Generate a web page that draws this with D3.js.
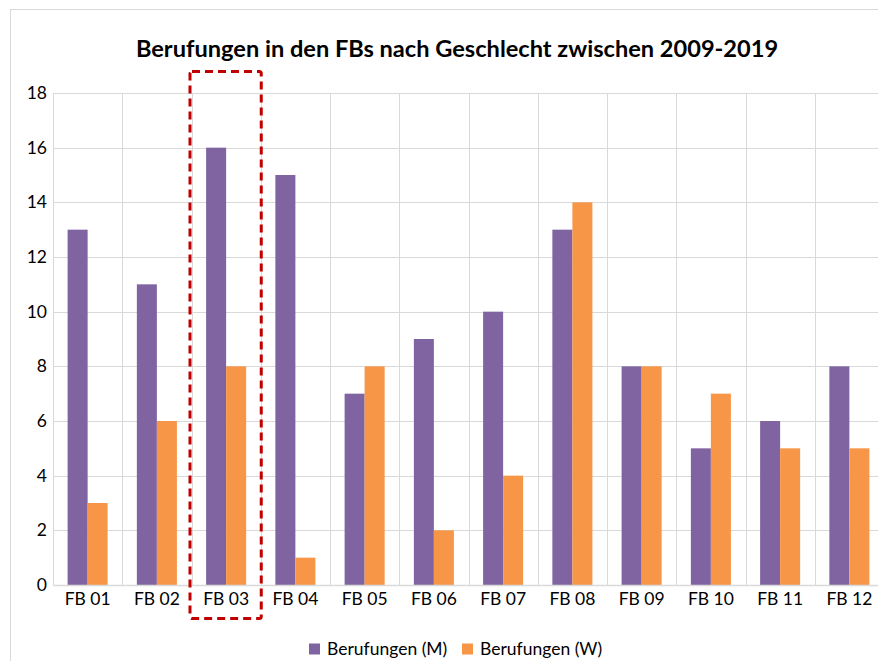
<!DOCTYPE html>
<html><head><meta charset="utf-8">
<script src="https://cdn.jsdelivr.net/npm/d3@7/dist/d3.min.js"></script>
<style>body{margin:0;background:#fff;overflow:hidden}svg{display:block;font-family:Lato,"Open Sans",sans-serif}</style>
</head><body>
<svg id="c" width="878" height="661"></svg>
<script>
const categories = ["FB 01","FB 02","FB 03","FB 04","FB 05","FB 06","FB 07","FB 08","FB 09","FB 10","FB 11","FB 12"];
const seriesNames = ["Berufungen (M)","Berufungen (W)"];
const valuesM = [13,11,16,15,7,9,10,13,8,5,6,8];
const valuesW = [3,6,8,1,8,2,4,14,8,7,5,5];
const yTicks = [0,2,4,6,8,10,12,14,16,18];
const colors = ["#8064A2","#F79646"];
const highlighted = "FB 03";

const svg = d3.select("#c");
const m = {left:53, right:884, top:93, bottom:585};

// chart frame
svg.append("rect").attr("x",10.5).attr("y",9.5).attr("width",894).attr("height",670)
  .attr("fill","none").attr("stroke","#d9d9d9").attr("stroke-width",1);

const x = d3.scaleBand().domain(categories).range([m.left,m.right]);
const y = d3.scaleLinear().domain([0,18]).range([m.bottom,m.top]);
const xs = d3.scaleBand().domain([0,1]).range([0,x.bandwidth()]).paddingInner(0).paddingOuter(0.73);

// horizontal grid
svg.append("g").selectAll("line").data(yTicks.filter(d=>d>0)).join("line")
  .attr("x1",m.left).attr("x2",m.right).attr("y1",d=>Math.round(y(d))+0.5).attr("y2",d=>Math.round(y(d))+0.5)
  .attr("stroke","#d9d9d9");
// vertical grid
svg.append("g").selectAll("line").data(categories).join("line")
  .attr("x1",d=>Math.round(x(d))+0.5).attr("x2",d=>Math.round(x(d))+0.5)
  .attr("y1",m.top).attr("y2",m.bottom).attr("stroke","#d9d9d9");

// bars
const series = [valuesM, valuesW];
series.forEach((vals,si)=>{
  svg.append("g").selectAll("rect").data(vals).join("rect")
    .attr("x",(d,i)=>x(categories[i])+xs(si))
    .attr("width",xs.bandwidth())
    .attr("y",d=>y(d)).attr("height",d=>y(0)-y(d))
    .attr("fill",colors[si]);
});

// baseline
svg.append("line").attr("x1",m.left).attr("x2",m.right).attr("y1",m.bottom+0.5).attr("y2",m.bottom+0.5)
  .attr("stroke","#d9d9d9").attr("stroke-width",1.5);

// y axis labels
const ya = svg.append("g").attr("transform",`translate(${m.left},0)`)
  .call(d3.axisLeft(y).tickValues(yTicks).tickSize(0).tickPadding(6));
ya.select(".domain").remove();
ya.selectAll("text").attr("font-size",17.5).attr("fill","#000").attr("font-family","Lato");

// x axis labels
const xa = svg.append("g").attr("transform",`translate(0,${m.bottom})`)
  .call(d3.axisBottom(x).tickSize(0).tickPadding(8));
xa.select(".domain").remove();
xa.selectAll("text").attr("font-size",17.5).attr("fill","#000").attr("font-family","Lato");

// title
svg.append("text").attr("x",457).attr("y",57).attr("text-anchor","middle")
  .attr("font-size",23.6).attr("font-weight","bold").attr("fill","#000")
  .text("Berufungen in den FBs nach Geschlecht zwischen 2009-2019");

// highlight box
svg.append("rect").attr("x",x(highlighted)-1.5).attr("y",71.5)
  .attr("width",x.bandwidth()+2).attr("height",547).attr("rx",2)
  .attr("fill","none").attr("stroke","#C00000").attr("stroke-width",3).attr("stroke-dasharray","8,5");

// legend
const lg = svg.append("g").attr("transform","translate(309,649)");
const lx = [0,153];
seriesNames.forEach((n,i)=>{
  lg.append("rect").attr("x",lx[i]).attr("y",-5.5).attr("width",11).attr("height",11).attr("fill",colors[i]);
  lg.append("text").attr("x",lx[i]+18).attr("y",6).attr("font-size",17.5).attr("fill","#000").text(n);
});
</script>
</body></html>
